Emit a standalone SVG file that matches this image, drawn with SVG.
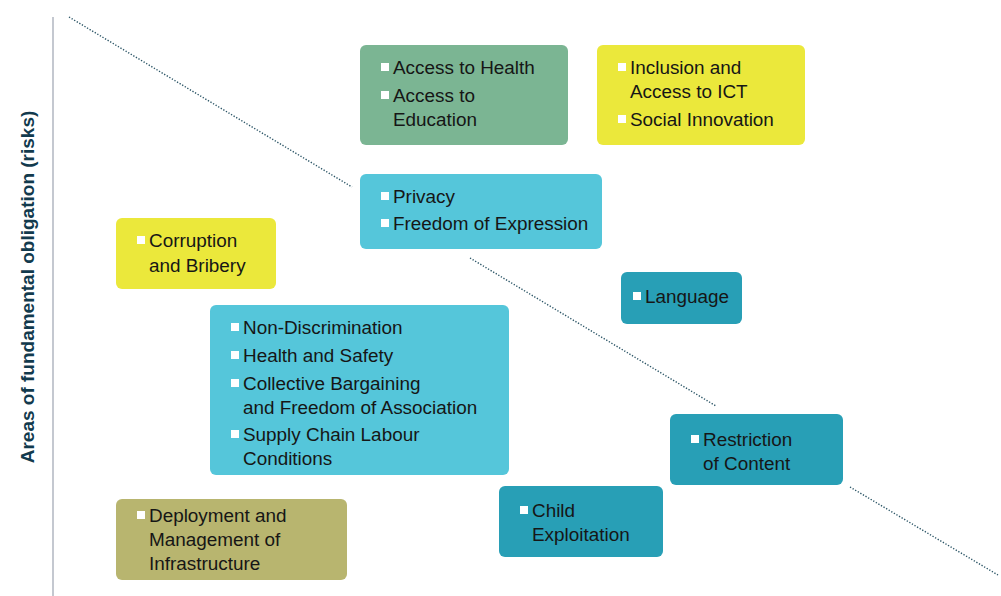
<svg xmlns="http://www.w3.org/2000/svg" width="1001" height="596" viewBox="0 0 1001 596">
<style>
.box{stroke:none}
.g{fill:#7bb593}.y{fill:#ebe83b}.c{fill:#55c6da}.t{fill:#289fb6}.o{fill:#b8b56f}
.b{fill:#ffffff}
text{font-family:"Liberation Sans",Arial,sans-serif;font-size:18.9px;fill:#161616}
.ax{font-weight:bold;font-size:19px;fill:#123a4d}
.dot{stroke:#2b5566;stroke-width:1.4;stroke-dasharray:1.3 1.7;fill:none}
</style>
<rect width="1001" height="596" fill="#ffffff"/>
<line x1="53" y1="17" x2="53" y2="596" stroke="#c4c8d0" stroke-width="2"/>
<text class="ax" transform="translate(34,287) rotate(-90)" text-anchor="middle">Areas of fundamental obligation (risks)</text>
<g id="connectors">
<line class="dot" x1="69" y1="17" x2="352" y2="187"/>
<line class="dot" x1="470" y1="258" x2="716" y2="406"/>
<line class="dot" x1="850" y1="487" x2="998" y2="575"/>
</g>
<g id="health">
<rect class="box g" x="360" y="45" width="208" height="100" rx="6"/>
<rect class="b" x="381" y="63" width="8" height="8"/><text x="393" y="74">Access to Health</text>
<rect class="b" x="381" y="91" width="8" height="8"/><text x="393" y="102">Access to</text>
<text x="393" y="126">Education</text>
</g>
<g id="inclusion">
<rect class="box y" x="597" y="45" width="208" height="100" rx="6"/>
<rect class="b" x="618" y="63" width="8" height="8"/><text x="630" y="74">Inclusion and</text>
<text x="630" y="98">Access to ICT</text>
<rect class="b" x="618" y="115" width="8" height="8"/><text x="630" y="126">Social Innovation</text>
</g>
<g id="privacy">
<rect class="box c" x="360" y="174" width="242" height="75" rx="6"/>
<rect class="b" x="381" y="192" width="8" height="8"/><text x="393" y="203">Privacy</text>
<rect class="b" x="381" y="219" width="8" height="8"/><text x="393" y="230">Freedom of Expression</text>
</g>
<g id="corruption">
<rect class="box y" x="116" y="218" width="160" height="71" rx="6"/>
<rect class="b" x="137" y="236" width="8" height="8"/><text x="149" y="247">Corruption</text>
<text x="149" y="272">and Bribery</text>
</g>
<g id="language">
<rect class="box t" x="621" y="272" width="121" height="52" rx="6"/>
<rect class="b" x="633" y="292" width="8" height="8"/><text x="645" y="303">Language</text>
</g>
<g id="labour">
<rect class="box c" x="210" y="305" width="299" height="170" rx="6"/>
<rect class="b" x="231" y="323" width="8" height="8"/><text x="243" y="334">Non-Discrimination</text>
<rect class="b" x="231" y="351" width="8" height="8"/><text x="243" y="362">Health and Safety</text>
<rect class="b" x="231" y="379" width="8" height="8"/><text x="243" y="390">Collective Bargaining</text>
<text x="243" y="414">and Freedom of Association</text>
<rect class="b" x="231" y="430" width="8" height="8"/><text x="243" y="441">Supply Chain Labour</text>
<text x="243" y="465">Conditions</text>
</g>
<g id="restriction">
<rect class="box t" x="670" y="414" width="173" height="71" rx="6"/>
<rect class="b" x="691" y="435" width="8" height="8"/><text x="703" y="446">Restriction</text>
<text x="703" y="470">of Content</text>
</g>
<g id="child">
<rect class="box t" x="499" y="486" width="164" height="71" rx="6"/>
<rect class="b" x="520" y="506" width="8" height="8"/><text x="532" y="517">Child</text>
<text x="532" y="541">Exploitation</text>
</g>
<g id="deployment">
<rect class="box o" x="116" y="499" width="231" height="81" rx="6"/>
<rect class="b" x="137" y="511" width="8" height="8"/><text x="149" y="522">Deployment and</text>
<text x="149" y="546">Management of</text>
<text x="149" y="570">Infrastructure</text>
</g>
</svg>
